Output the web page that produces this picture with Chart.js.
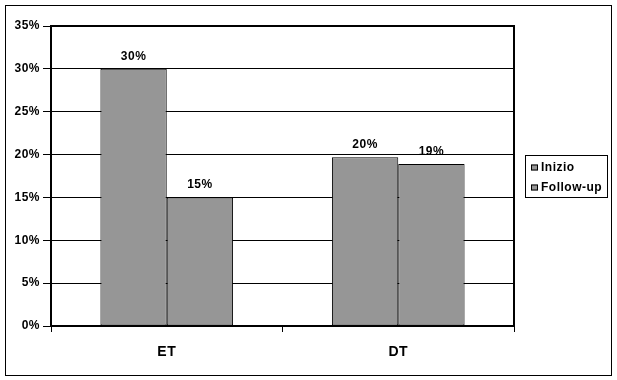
<!DOCTYPE html>
<html>
<head>
<meta charset="utf-8">
<script src="https://cdn.jsdelivr.net/npm/chart.js@4"></script>
<style>
html,body{margin:0;padding:0;background:#fff;}
#wrap{position:relative;width:617px;height:380px;}
</style>
</head>
<body>
<div id="wrap"><canvas id="c" width="617" height="380"></canvas></div>
<script>
const categories = ["ET", "DT"];
const seriesNames = ["Inizio", "Follow-up"];
const inizio = [30, 19.7];
const followUp = [15, 18.9];
const yTicks = [0, 5, 10, 15, 20, 25, 30, 35];

const FONT = "'Liberation Sans', Arial, sans-serif";
const BAR_FILL = "#969696";

const frame = {
  id: 'frame',
  beforeDraw(chart) {
    const ctx = chart.ctx;
    ctx.save();
    ctx.fillStyle = '#fff';
    ctx.fillRect(0, 0, chart.width, chart.height);
    ctx.restore();
    ctx.letterSpacing = '0.5px';
  },
  afterDraw(chart) {
    const ctx = chart.ctx;
    const a = chart.chartArea;
    ctx.save();
    // outer border
    ctx.strokeStyle = '#000';
    ctx.lineWidth = 1;
    ctx.strokeRect(5.5, 5.5, 606, 370);
    // plot border
    ctx.lineWidth = 2;
    ctx.strokeRect(a.left, a.top, a.right - a.left, a.bottom - a.top);
    // value labels
    ctx.fillStyle = '#000';
    ctx.font = 'bold 12px ' + FONT;
    ctx.textAlign = 'center';
    ctx.textBaseline = 'alphabetic';
    chart.data.datasets.forEach((ds, di) => {
      const meta = chart.getDatasetMeta(di);
      meta.data.forEach((bar, i) => {
        ctx.fillText(Math.round(ds.data[i]) + '%', bar.x, bar.y - 9);
      });
    });
    // legend
    const lx = 525.5, ly = 155.5, lw = 82, lh = 42;
    ctx.lineWidth = 1;
    ctx.strokeRect(lx, ly, lw, lh);
    ctx.textAlign = 'left';
    ctx.textBaseline = 'middle';
    ctx.font = 'bold 12px ' + FONT;
    const rows = [167.5, 187.5];
    chart.data.datasets.forEach((ds, di) => {
      const y = rows[di];
      ctx.fillStyle = ds.backgroundColor;
      ctx.fillRect(531, y - 3, 7, 6);
      ctx.strokeStyle = '#000';
      ctx.strokeRect(531.5, y - 2.5, 6, 5);
      ctx.fillStyle = '#000';
      ctx.fillText(ds.label, 541, y);
    });
    ctx.restore();
  }
};

new Chart(document.getElementById('c'), {
  type: 'bar',
  data: {
    labels: categories,
    datasets: [
      { label: seriesNames[0], data: inizio, backgroundColor: BAR_FILL, borderColor: '#000', borderWidth: 1, borderSkipped: false },
      { label: seriesNames[1], data: followUp, backgroundColor: BAR_FILL, borderColor: '#000', borderWidth: 1, borderSkipped: false }
    ]
  },
  options: {
    responsive: false,
    animation: false,
    devicePixelRatio: 1,
    layout: { padding: { left: 0, top: 26, right: 103, bottom: 0 } },
    plugins: { legend: { display: false }, tooltip: { enabled: false } },
    datasets: { bar: { categoryPercentage: 0.573, barPercentage: 1 } },
    scales: {
      x: {
        afterFit(s) { s.height = 54; },
        grid: { drawOnChartArea: false, drawTicks: true, tickLength: 6, color: '#000', offset: true },
        border: { color: '#000', width: 2 },
        ticks: { color: '#000', font: { family: FONT, size: 14, weight: 'bold' }, padding: 12 }
      },
      y: {
        min: 0, max: 35,
        afterFit(s) { s.width = 51; },
        afterBuildTicks(s) { s.ticks = yTicks.map(v => ({ value: v })); },
        grid: { color: '#000', lineWidth: 1, tickLength: 8 },
        border: { color: '#000', width: 2 },
        ticks: { color: '#000', font: { family: FONT, size: 12, weight: 'bold' }, padding: 3, callback: v => v + '%' }
      }
    }
  },
  plugins: [frame]
});
</script>
</body>
</html>
